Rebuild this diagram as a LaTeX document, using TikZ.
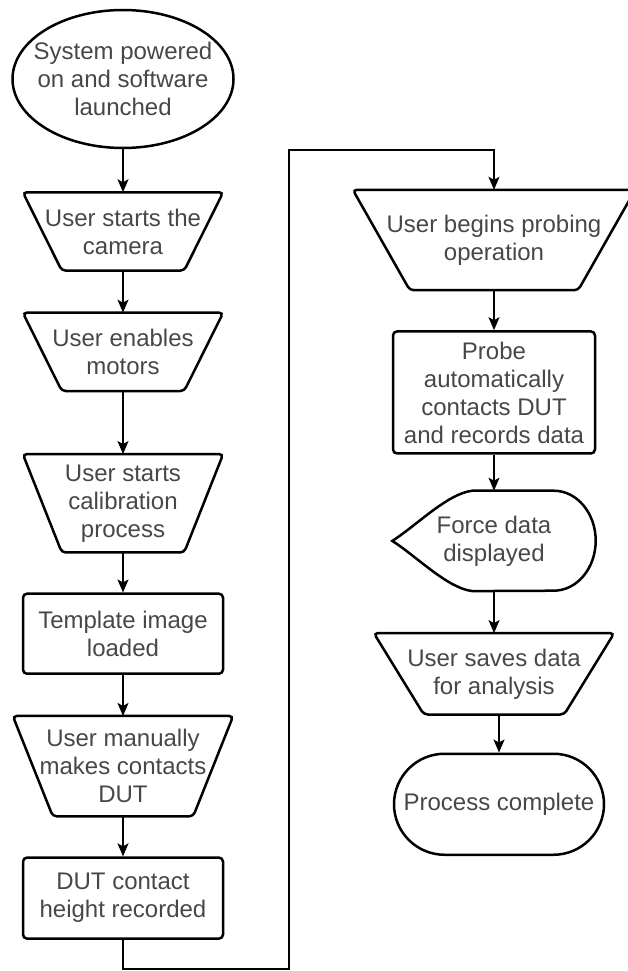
\documentclass[tikz,border=0pt]{standalone}
\usepackage{fontspec}
\setmainfont{Liberation Sans}
\usetikzlibrary{arrows.meta, shapes.geometric, shapes.misc, positioning}
\tikzset{
  every node/.style={font=\fontsize{24}{28}\selectfont, text=black!72, align=center, inner sep=0pt},
  shapeline/.style={draw=black, line width=2.5pt},
  terminal/.style={shapeline, ellipse, inner xsep=-13pt, minimum width=221pt, minimum height=138pt},
  manualop/.style={rectangle, minimum width=200pt, minimum height=78pt},
  process/.style={shapeline, rectangle, rounded corners=4pt, minimum width=200pt},
  flow/.style={->, line width=1.6pt},
}

\begin{document}
\begin{tikzpicture}[x=1pt, y=-1pt, >={Stealth[length=13pt,width=11pt,inset=3pt]}]
\useasboundingbox (0,0) rectangle (627,971);
% left column
\node[terminal] (start) at (123,79) {System powered\\on and software\\launched};
\node[manualop, below=43pt of start] (camera) {User starts the\\camera};
\node[manualop, below=42pt of camera] (motors) {User enables\\motors};
\node[manualop, minimum height=98pt, below=63pt of motors] (calib) {User starts\\calibration\\process};
\node[process, minimum height=80pt, below=40pt of calib] (templ) {Template image\\loaded};
\node[manualop, minimum width=220pt, minimum height=100pt, below=41pt of templ] (contact) {User manually\\makes contacts\\DUT};
\node[process, minimum height=81pt, below=40pt of contact] (height) {DUT contact\\height recorded};
% right column
\node[manualop, minimum width=282pt, minimum height=100pt] (probing) at (494,240) {User begins probing\\operation};
\node[process, minimum width=202pt, minimum height=122pt, below=40pt of probing] (probe) {Probe\\automatically\\contacts DUT\\and records data};
\node[minimum width=203pt, minimum height=100pt, below=36pt of probe] (force) {Force data\\displayed};
\node[manualop, minimum width=240pt, minimum height=81pt, below=42pt of force] (saves) {User saves data\\for analysis};
\node[shapeline, rounded rectangle, minimum width=210pt, minimum height=101pt, below=38pt of saves, xshift=5pt] (done) {Process complete};

% manual operation outlines (wide top, narrow bottom)
\foreach \n/\d in {camera/39, motors/39, calib/39, contact/40, probing/57, saves/50}
  \draw[shapeline, rounded corners=4pt] (\n.north west) -- (\n.north east)
    -- ([xshift=-\d pt]\n.south east) -- ([xshift=\d pt]\n.south west) -- cycle;

% display outline
\draw[shapeline] (force.west)
  .. controls ([xshift=25pt,yshift=16pt]force.west) and ([xshift=55pt,yshift=-3pt]force.north west) .. ([xshift=80pt]force.north west)
  -- ([xshift=-42pt]force.north east) arc[start angle=-90, end angle=90, x radius=42, y radius=50]
  -- ([xshift=80pt]force.south west)
  .. controls ([xshift=55pt,yshift=3pt]force.south west) and ([xshift=25pt,yshift=-16pt]force.west) .. (force.west) -- cycle;

% connectors
\coordinate (c1) at (289,969);
\coordinate (c2) at (289,150);
\draw[flow] (start) -- (camera);
\draw[flow] (camera) -- (motors);
\draw[flow] (motors) -- (calib);
\draw[flow] (calib) -- (templ);
\draw[flow] (templ) -- (contact);
\draw[flow] (contact) -- (height);
\draw[flow] (height.south) |- (c1) -- (c2) -| (probing.north);
\draw[flow] (probing) -- (probe);
\draw[flow] (probe) -- (force.north);
\draw[flow] (force.south) -- (saves.north);
\draw[flow] (saves.south -| done.north) -- (done);
\end{tikzpicture}
\end{document}
